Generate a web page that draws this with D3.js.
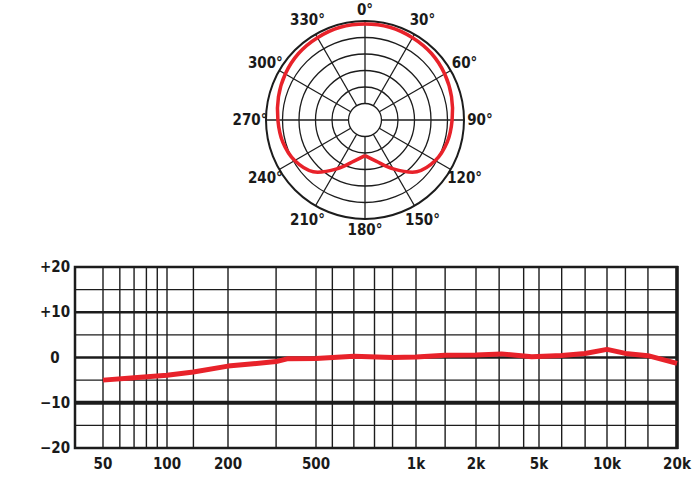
<!DOCTYPE html>
<html>
<head>
<meta charset="utf-8">
<script src="https://cdn.jsdelivr.net/npm/d3@7"></script>
<style>
  body { margin: 0; background: #fff; }
  text { font-family: "DejaVu Sans Condensed", "DejaVu Sans", sans-serif; font-weight: bold; fill: #1a1a1a; }
</style>
</head>
<body>
<div id="chart"></div>
<script>
// polar pattern: relative level, 1 = outer ring
var polar_angles = [0, 15, 30, 45, 60, 75, 90, 105, 120, 135, 150, 165,
                    180, 195, 210, 225, 240, 255, 270, 285, 300, 315, 330, 345];
var polar_levels = [0.97, 0.97, 0.96, 0.95, 0.93, 0.905, 0.88, 0.86, 0.82, 0.74, 0.57, 0.43,
                    0.36, 0.43, 0.57, 0.74, 0.82, 0.86, 0.88, 0.905, 0.93, 0.95, 0.96, 0.97];
var polar_label_angles = [0, 30, 60, 90, 120, 150, 180, 210, 240, 270, 300, 330];
var ring_levels = [1 / 6, 2 / 6, 3 / 6, 4 / 6, 5 / 6, 1];

// frequency response
var freqs = [50, 70, 100, 135, 200, 260, 330, 370, 500, 650, 850, 1000, 1400,
             2000, 2900, 4500, 6300, 8000, 10000, 12000, 15000, 20000];
var response_db = [-5.0, -4.5, -3.9, -3.2, -1.9, -1.4, -0.9, -0.3, -0.2, 0.3, 0.0, 0.1, 0.5,
                   0.55, 0.8, 0.15, 0.45, 0.9, 1.8, 0.9, 0.4, -1.3];
var freq_ticks = [50, 100, 200, 500, 1000, 2000, 5000, 10000, 20000];
var freq_tick_labels = ["50", "100", "200", "500", "1k", "2k", "5k", "10k", "20k"];
var grid_freqs = [60, 70, 80, 90, 135, 330, 560, 650, 750, 850, 1400, 2800, 4000,
                  6300, 8000, 12000, 15000];
var db_grid = [-15, -5, 5, 15];
var db_major = [-20, -10, 0, 10, 20];
var db_labels = ["\u221220", "\u221210", "0", "+10", "+20"];

var width = 700, height = 481;
var red = "#e8222a", ink = "#1c1c1c";

var svg = d3.select("#chart").append("svg")
  .attr("width", width)
  .attr("height", height);

// ---------- polar plot ----------
var cx = 365, cy = 120, R = 99;
var r = d3.scaleLinear().domain([0, 1]).range([0, R]);
var gp = svg.append("g").attr("transform", "translate(" + cx + "," + cy + ")");

gp.selectAll(".ring").data(ring_levels).enter().append("circle")
  .attr("r", function(d) { return r(d); })
  .attr("fill", "none")
  .attr("stroke", ink)
  .attr("stroke-width", function(d) { return d == 1 ? 2 : 1.3; });

gp.selectAll(".spoke").data(polar_label_angles).enter().append("line")
  .attr("x1", function(d) { return r(ring_levels[0]) * Math.sin(d * Math.PI / 180); })
  .attr("y1", function(d) { return -r(ring_levels[0]) * Math.cos(d * Math.PI / 180); })
  .attr("x2", function(d) { return r(1) * Math.sin(d * Math.PI / 180); })
  .attr("y2", function(d) { return -r(1) * Math.cos(d * Math.PI / 180); })
  .attr("stroke", ink)
  .attr("stroke-width", 1.3);

// start and end at the rear cusp (180 deg)
var pts = polar_angles.map(function(a, i) { return { a: a, v: polar_levels[i] }; });
var k = polar_angles.indexOf(180);
var ordered = pts.slice(k).concat(pts.slice(0, k)).concat([pts[k]]);
var radial = d3.lineRadial()
  .angle(function(d) { return d.a * Math.PI / 180; })
  .radius(function(d) { return r(d.v); })
  .curve(d3.curveCatmullRom);
gp.append("path")
  .attr("d", radial(ordered))
  .attr("fill", "none")
  .attr("stroke", red)
  .attr("stroke-width", 3.5)
  .attr("stroke-linejoin", "miter");

gp.selectAll(".plabel").data(polar_label_angles).enter().append("text")
  .attr("x", function(d) { return (d % 180 == 0 ? 110 : 115) * Math.sin(d * Math.PI / 180); })
  .attr("y", function(d) { return -(d % 180 == 0 ? 110 : 115) * Math.cos(d * Math.PI / 180); })
  .attr("text-anchor", "middle")
  .attr("dominant-baseline", "central")
  .style("font-size", "15px")
  .text(function(d) { return d + "\u00b0"; });

// ---------- frequency response ----------
var plot = { left: 75, right: 677, top: 267, bottom: 448 };
// the printed scale is hand drawn and not exactly logarithmic: piecewise log scale
var x = d3.scaleLog()
  .domain(freq_ticks)
  .range([103, 167, 228, 316, 416, 476, 539, 607, 677]);
var y = d3.scaleLinear().domain([-20, 20]).range([plot.bottom, plot.top]);

var gf = svg.append("g");

gf.selectAll(".vgrid").data(freq_ticks.concat(grid_freqs)).enter().append("line")
  .attr("x1", function(d) { return x(d); })
  .attr("x2", function(d) { return x(d); })
  .attr("y1", plot.top)
  .attr("y2", plot.bottom)
  .attr("stroke", ink)
  .attr("stroke-width", 1.4);

gf.selectAll(".hgrid").data(db_grid.concat(db_major)).enter().append("line")
  .attr("x1", plot.left)
  .attr("x2", plot.right)
  .attr("y1", function(d) { return y(d); })
  .attr("y2", function(d) { return y(d); })
  .attr("stroke", ink)
  .attr("stroke-width", function(d) {
    if (d == -10) return 4;
    if (d == 10 || d == 0) return 2.7;
    return 1.4;
  });

gf.append("rect")
  .attr("x", plot.left)
  .attr("y", plot.top)
  .attr("width", plot.right - plot.left)
  .attr("height", plot.bottom - plot.top)
  .attr("fill", "none")
  .attr("stroke", ink)
  .attr("stroke-width", 2.5);
gf.append("line")
  .attr("x1", plot.right).attr("x2", plot.right)
  .attr("y1", plot.top - 1).attr("y2", plot.bottom + 1)
  .attr("stroke", ink)
  .attr("stroke-width", 3.5);

var line = d3.line()
  .x(function(d, i) { return x(freqs[i]); })
  .y(function(d) { return y(d); });
gf.append("path")
  .attr("d", line(response_db))
  .attr("fill", "none")
  .attr("stroke", red)
  .attr("stroke-width", 5)
  .attr("stroke-linejoin", "round");

gf.selectAll(".ylabel").data(db_major).enter().append("text")
  .attr("x", 55)
  .attr("y", function(d) { return y(d); })
  .attr("text-anchor", "middle")
  .attr("dominant-baseline", "central")
  .style("font-size", "15px")
  .text(function(d, i) { return db_labels[i]; });

gf.selectAll(".xlabel").data(freq_ticks).enter().append("text")
  .attr("x", function(d) { return x(d); })
  .attr("y", 464)
  .attr("text-anchor", "middle")
  .attr("dominant-baseline", "central")
  .style("font-size", "15px")
  .text(function(d, i) { return freq_tick_labels[i]; });
</script>
</body>
</html>
